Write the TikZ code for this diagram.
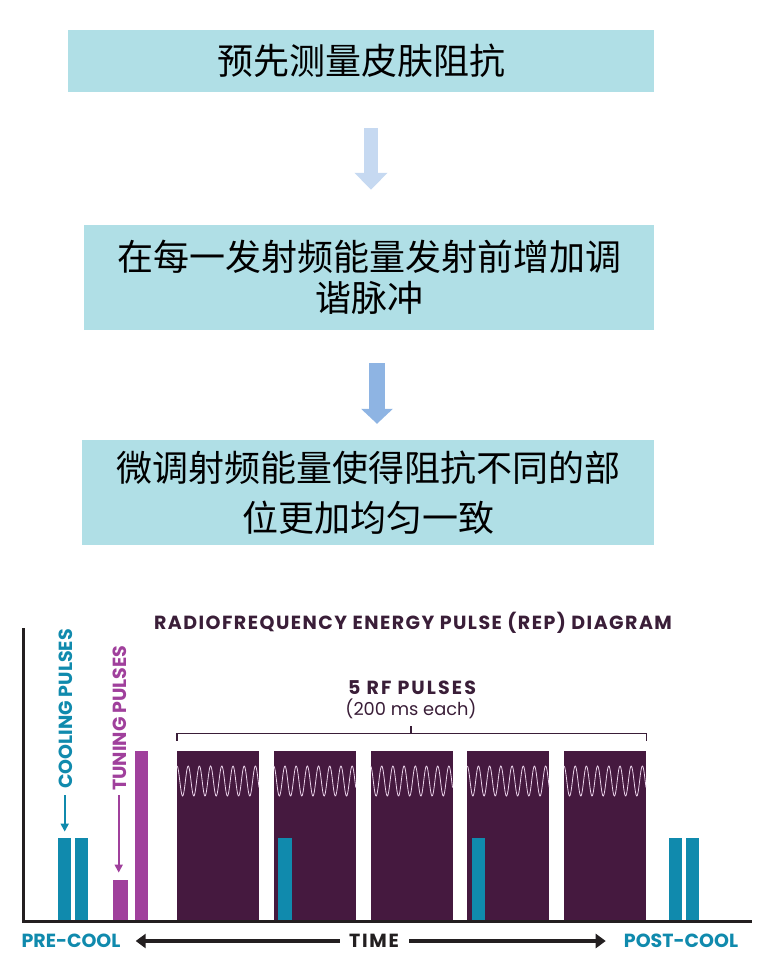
\documentclass[tikz,border=0pt]{standalone}
\usepackage{fontspec}
\setmainfont{Poppins}
\newfontfamily\cjk{Noto Sans CJK SC}
\usetikzlibrary{arrows.meta}
\definecolor{box-blue}{HTML}{B0DFE6}
\definecolor{arrow-light}{HTML}{C6D9F1}
\definecolor{arrow-mid}{HTML}{8EB4E3}
\definecolor{rep-teal}{HTML}{108AAD}
\definecolor{rep-magenta}{HTML}{A0409C}
\definecolor{rep-purple}{HTML}{45193F}
\definecolor{rep-ink}{HTML}{3A1E38}
\definecolor{axis-black}{HTML}{231F20}
\definecolor{wave-pink}{HTML}{EBD3EB}

\tikzset{
  stepbox/.style={fill=box-blue, inner sep=0pt, align=center,
    font=\cjk\fontsize{36}{41}\selectfont},
  replabel/.style={inner sep=0pt, font=\bfseries\fontsize{19}{22}\selectfont},
  spaced/.style={font=\bfseries\fontsize{19}{22}\selectfont\addfontfeatures{LetterSpace=#1}},
  bar/.style={anchor=south west, inner sep=0pt, minimum width=13pt},
  labelarrow/.style={line width=1.8pt, -{Triangle[length=8pt,width=8pt]}},
  timearrow/.style={axis-black, line width=4pt, -{Triangle[length=10pt,width=14pt]}}
}

\begin{document}
\begin{tikzpicture}[x=1pt, y=-1pt]
  \useasboundingbox (0,0) rectangle (766,972);

  % flow of steps
  \node[stepbox, minimum width=586pt, minimum height=62pt]
    (measure) at (361,61) {预先测量皮肤阻抗};
  \node[stepbox, minimum width=570pt, minimum height=105pt]
    (tune) at (369,277.5) {在每一发射频能量发射前增加调\\谐脉冲};
  \node[stepbox, minimum width=572pt, minimum height=105pt,
        font=\cjk\fontsize{36}{50}\selectfont]
    (even) at (368,492.5) {微调射频能量使得阻抗不同的部\\位更加均匀一致};
  \draw[arrow-light, line width=14pt, -{Triangle[length=17pt,width=32pt]},
        shorten <=36pt, shorten >=35pt]
    ([xshift=10pt]measure.south) -- ([xshift=2pt]tune.north);
  \draw[arrow-mid, line width=16pt, -{Triangle[length=15pt,width=31pt]},
        shorten <=33pt, shorten >=16pt]
    ([xshift=8pt]tune.south) -- ([xshift=9pt]even.north);

  % REP diagram
  \node[replabel, spaced=7.7, text=rep-ink] (title) at (413,623)
    {RADIOFREQUENCY ENERGY PULSE (REP) DIAGRAM};

  % RF pulses with carrier wave
  \foreach \i in {0,...,4} {
    \pgfmathsetmacro{\xs}{177+96.75*\i}
    \node[bar, fill=rep-purple, minimum width=82pt, minimum height=169pt]
      (rf\i) at (\xs,920) {};
  }
  \node[bar, fill=rep-teal, minimum width=14pt, minimum height=82pt] (coolC) at (278,920) {};
  \node[bar, fill=rep-teal, minimum height=82pt] (coolD) at (472,920) {};
  \foreach \i in {0,...,4} {
    \pgfmathsetmacro{\xs}{177+96.75*\i}
    \draw[wave-pink, line width=0.8pt]
      plot[domain=0:82, samples=160] ({\xs+\x},{781-15*cos(\x/11.2*360)});
  }

  % bracket over the RF pulses
  \draw[rep-ink, line width=1.5pt]
    (rf0.north west) ++(0,-10) -- ++(0,-7) -| ([yshift=10pt]rf4.north east);
  \draw[rep-ink, line width=1.5pt] (411,734) -- (411,726);
  \node[replabel, spaced=11, text=rep-ink] (rfcount) at (412,688) {5 RF PULSES};
  \node[inner sep=0pt, text=rep-ink, font=\fontsize{17.8}{20}\selectfont]
    (rfeach) at (411,709) {(200 ms each)};

  % cooling and tuning pulses
  \node[bar, fill=rep-teal, minimum height=82pt] (coolA) at (58,920) {};
  \node[bar, fill=rep-teal, minimum height=82pt] (coolB) at (75,920) {};
  \node[bar, fill=rep-magenta, minimum width=15pt, minimum height=40pt] (tuneA) at (113,920) {};
  \node[bar, fill=rep-magenta, minimum height=169pt] (tuneB) at (135,920) {};
  \node[bar, fill=rep-teal, minimum height=82pt] (postA) at (669,920) {};
  \node[bar, fill=rep-teal, minimum height=82pt] (postB) at (686,920) {};

  \node[replabel, text=rep-teal, rotate=90] (coollbl) at (66,709) {COOLING PULSES};
  \node[replabel, text=rep-magenta, rotate=90] (tunelbl) at (120,718) {TUNING PULSES};
  \draw[labelarrow, rep-teal, shorten <=6pt, shorten >=6pt]
    (coolA.north |- coollbl.west) -- (coolA.north);
  \draw[labelarrow, rep-magenta, shorten <=4pt, shorten >=7pt]
    ([xshift=-2pt]tuneA.north |- tunelbl.west) -- ([xshift=-2pt]tuneA.north);

  % axes
  \draw[axis-black, line width=3pt] (23,628) -- (23,921) -- (752,921);

  % time line
  \node[replabel, text=rep-teal] (precool) at (71,941) {PRE-COOL};
  \node[replabel, spaced=9, text=axis-black] (time) at (374,941) {TIME};
  \node[replabel, text=rep-teal] (postcool) at (681,941) {POST-COOL};
  \draw[timearrow, shorten <=9pt, shorten >=15pt] (time.west) -- (precool.east);
  \draw[timearrow, shorten <=10pt, shorten >=18pt] (time.east) -- (postcool.west);
\end{tikzpicture}
\end{document}
